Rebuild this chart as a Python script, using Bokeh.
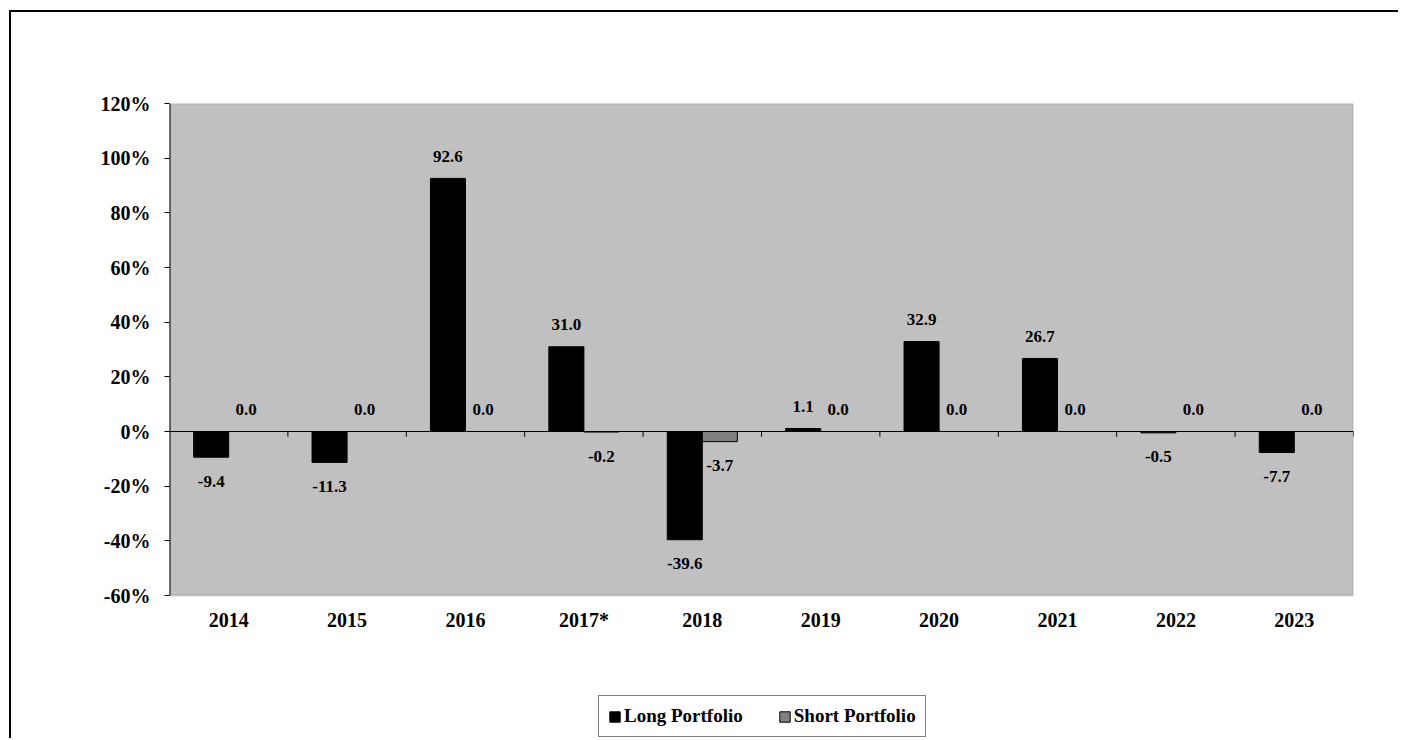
from bokeh.plotting import figure
from bokeh.models import (ColumnDataSource, FixedTicker, PrintfTickFormatter, Span,
                          Legend, LegendItem, LabelSet, BoxAnnotation)
from bokeh.embed import file_html
from bokeh.resources import INLINE

years = ["2014", "2015", "2016", "2017*", "2018", "2019", "2020", "2021", "2022", "2023"]
long_vals = [-9.4, -11.3, 92.6, 31.0, -39.6, 1.1, 32.9, 26.7, -0.5, -7.7]
short_vals = [0.0, 0.0, 0.0, -0.2, -3.7, 0.0, 0.0, 0.0, 0.0, 0.0]
y_ticks = [-60, -40, -20, 0, 20, 40, 60, 80, 100, 120]

FONT = "Liberation Serif"
BW = 0.296

# layout constants (pixels)
W, H = 1389, 728
BORDER_L, BORDER_T, BORDER_R = 158, 91, 47
PLOT_H = 492                      # height of the grey plotting area
FRAME_H = H - BORDER_T            # frame extends to the bottom to host labels + legend
ymin, ymax = y_ticks[0], y_ticks[-1]
px_per_unit = PLOT_H / (ymax - ymin)
y_start = ymax - FRAME_H / px_per_unit

n = len(years)
xc = [i + 0.5 for i in range(n)]
xl = [x - BW / 2 for x in xc]
xs = [x + BW / 2 for x in xc]

def lab(vals):
    return ["%.1f" % v for v in vals]

def offs(vals):
    return [-24 if v < 0 else 22 for v in vals]

src_long = ColumnDataSource(dict(x=xl, top=long_vals, lab=lab(long_vals), off=offs(long_vals)))
src_short = ColumnDataSource(dict(x=xs, top=short_vals, lab=lab(short_vals), off=offs(short_vals)))
src_cat = ColumnDataSource(dict(x=xc, y=[ymin] * n, lab=years))

p = figure(width=W, height=H, x_range=(0, n), y_range=(y_start, ymax),
           output_backend="svg", toolbar_location=None, x_axis_location=None,
           min_border_left=BORDER_L, min_border_right=BORDER_R,
           min_border_top=BORDER_T, min_border_bottom=0)
p.styles = {"border-top": "2.5px solid black", "border-left": "2.5px solid black",
            "margin-left": "9px", "margin-top": "10px"}
p.background_fill_color = "white"
p.border_fill_color = "white"
p.outline_line_color = None
p.xgrid.visible = False
p.ygrid.visible = False

# grey plot area
p.add_layout(BoxAnnotation(left=0, right=n, bottom=ymin, top=ymax,
                           fill_color="#C0C0C0", fill_alpha=1,
                           line_color="#808080", line_width=2, level="underlay"))
# left axis line
p.segment(x0=[0], y0=[ymin], x1=[0], y1=[ymax], line_color="black", line_width=2)

# y axis
p.yaxis.ticker = FixedTicker(ticks=y_ticks)
p.yaxis.formatter = PrintfTickFormatter(format="%d%%")
p.yaxis.axis_line_color = None
p.yaxis.major_tick_line_color = "black"
p.yaxis.major_tick_out = 5
p.yaxis.major_tick_in = 0
p.yaxis.minor_tick_line_color = None
p.yaxis.major_label_standoff = 14
p.yaxis.major_label_text_font = FONT
p.yaxis.major_label_text_font_style = "bold"
p.yaxis.major_label_text_font_size = "20px"
p.yaxis.major_label_text_color = "black"

# category labels below the plot area
p.add_layout(LabelSet(x="x", y="y", text="lab", y_offset=-24, source=src_cat,
                      text_align="center", text_baseline="middle",
                      text_font=FONT, text_font_style="bold", text_font_size="20px",
                      text_color="black"))

# zero line and category ticks
p.add_layout(Span(location=0, dimension="width", line_color="black", line_width=1))
tick_x = list(range(1, n + 1))
p.segment(x0=tick_x, y0=[0] * len(tick_x), x1=tick_x, y1=[-1.9] * len(tick_x),
          line_color="black", line_width=1)

r_long = p.vbar(x="x", top="top", bottom=0, width=BW, source=src_long,
                fill_color="black", line_color="black", line_width=1)
r_short = p.vbar(x="x", top="top", bottom=0, width=BW, source=src_short,
                 fill_color="#808080", line_color="black", line_width=1)

for src in (src_long, src_short):
    p.add_layout(LabelSet(x="x", y="top", text="lab", y_offset="off", source=src,
                          text_align="center", text_baseline="middle",
                          text_font=FONT, text_font_style="bold", text_font_size="17px",
                          text_color="black"))

# legend (top-left corner given relative to the frame's bottom-left)
legend = Legend(items=[LegendItem(label="Long Portfolio", renderers=[r_long]),
                       LegendItem(label="Short Portfolio", renderers=[r_short])],
                orientation="horizontal", location=(429, 3),
                label_text_font=FONT, label_text_font_style="bold", label_text_font_size="19px",
                label_text_color="black",
                glyph_width=13, glyph_height=13, label_standoff=3, spacing=35,
                padding=9, margin=0, border_line_color="black", border_line_width=1,
                background_fill_color="white", background_fill_alpha=1, label_height=18)
p.add_layout(legend, "center")

open("out.html", "w").write(file_html(p, INLINE))
